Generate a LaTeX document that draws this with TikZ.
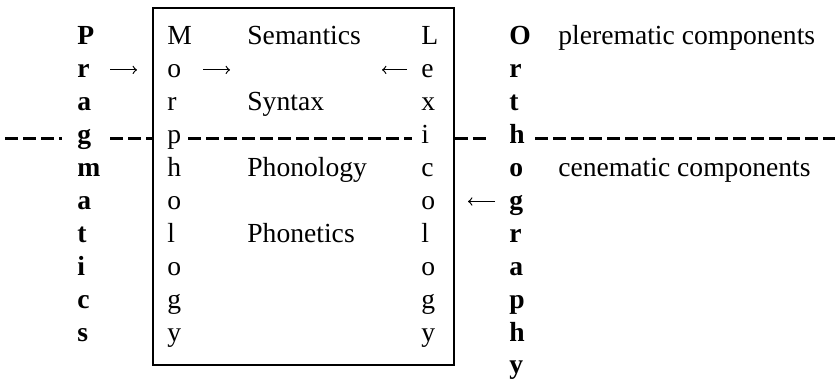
\documentclass[tikz,border=0pt]{standalone}
\usepackage{fontspec}
\setmainfont{Liberation Serif}

\tikzset{
	letter/.style={anchor=base west, inner sep=0pt, text height=10.5pt, text depth=2.5pt, font=\fontsize{13.8}{16}\selectfont},
	boldletter/.style={letter, font=\fontsize{13.8}{16}\selectfont\bfseries},
	word/.style={anchor=base west, inner sep=0pt, font=\fontsize{13.8}{16}\selectfont},
	cut/.style={line width=1.2pt, dash pattern=on 6.5pt off 2.5pt, transform canvas={yshift=-1.5pt}},
	arr/.style={->, line width=0.6pt},
}

\begin{document}
\begin{tikzpicture}[x=0.5pt, y=-0.5pt]

	\useasboundingbox (0,0) rectangle (835,383);

	% the box of the core components
	\node[draw, line width=0.8pt, minimum width=150.5pt, minimum height=178.5pt, inner sep=0pt] (box) at (303.5,186.5) {};

	% vertical words
	\foreach \c [count=\i] in {P,r,a,g,m,a,t,i,c,s}
		\node[boldletter] (p\i) at (77,{45+32.9*(\i-1)}) {\c};
	\foreach \c [count=\i] in {M,o,r,p,h,o,l,o,g,y}
		\node[letter] (m\i) at (167,{45+32.9*(\i-1)}) {\c};
	\foreach \c [count=\i] in {L,e,x,i,c,o,l,o,g,y}
		\node[letter] (l\i) at (421,{45+32.9*(\i-1)}) {\c};
	\foreach \c [count=\i] in {O,r,t,h,o,g,r,a,p,h,y}
		\node[boldletter] (o\i) at (509,{45+32.9*(\i-1)}) {\c};

	% components
	\node[word] (sem) at (247,45) {Semantics};
	\node[word] (syn) at (247,110.8) {Syntax};
	\node[word] (phon) at (247,176.6) {Phonology};
	\node[word] (phot) at (247,242.4) {Phonetics};
	\node[word] (pler) at (558,45) {plerematic components};
	\node[word] (cen) at (558,176.6) {cenematic components};

	% arrows
	\draw[arr, shorten <=16.5pt, shorten >=15pt] (p2.west) -- (m2.west);
	\draw[arr, shorten <=18pt, shorten >=95.5pt] (m2.west) -- (l2.west);
	\draw[arr, shorten <=7pt, shorten >=107.5pt] (l2.west) -- (m2.west);
	\draw[arr, shorten <=7pt, shorten >=23.5pt] (o6.west) -- (l6.west);

	% dividing line
	\coordinate (cl) at (5,0);
	\coordinate (cr) at (835,0);
	\draw[cut, shorten >=7.5pt] (cl |- p4.west) -- (p4.west);
	\draw[cut, shorten <=16.5pt] (p4.west) -- (p4.west -| box.west);
	\draw[cut, shorten <=10.5pt, shorten >=4.5pt] (m4.west) -- (l4.west);
	\draw[cut, shorten >=11pt] (o4.west -| box.east) -- (o4.west);
	\draw[cut, shorten <=13pt] (o4.west) -- (cr |- o4.west);

\end{tikzpicture}
\end{document}
